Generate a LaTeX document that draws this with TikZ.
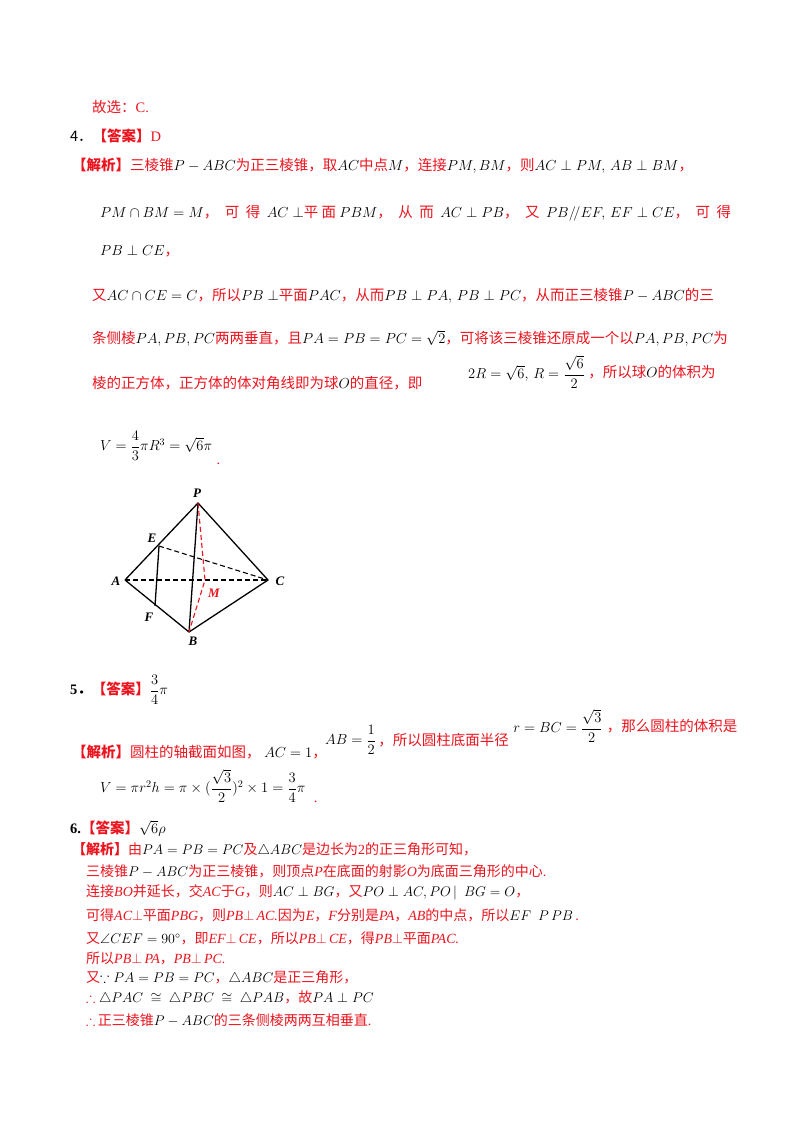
\RequirePackage{fix-cm}
\documentclass[tikz,border=0pt]{standalone}
\usepackage{amsmath,amssymb}
\usepackage{fontspec}
\usetikzlibrary{calc}
\setmainfont{Liberation Serif}
\newfontfamily\cjk{Noto Sans CJK SC}
\definecolor{ared}{RGB}{235,20,30}
\newcommand{\zh}[1]{{\color{ared}\cjk #1}}
\newcommand{\zb}[1]{{\color{ared}\cjk\bfseries #1}}
\begin{document}
\begin{tikzpicture}[x=1pt,y=-1pt,
  ln/.style={anchor=west,inner sep=0pt,font=\fontsize{14.5}{16}\selectfont},
  lab/.style={font=\bfseries\itshape\fontsize{13}{15}\selectfont,inner sep=1pt},
  edge/.style={line width=1.3pt},
  hid/.style={line width=1.1pt,dashed,dash pattern=on 5pt off 3pt}]
\useasboundingbox (0,0) rectangle (800,1132);
\node[ln] (l0) at (92,107) {\zh{故选：}{\color{ared}C.}};
\node[ln] (l1) at (70,136) {{\cjk 4．}\zb{【答案】}{\color{ared}D}};
\node[ln] (l2) at (72,166) {\zb{【解析】}\zh{三棱锥}$P-ABC$\zh{为正三棱锥，取}$AC$\zh{中点}$M$\zh{，连接}$PM,BM$\zh{，则}$AC\perp PM,\,AB\perp BM$\zh{，}};
\node[ln] (l3) at (100,213) {$PM\cap BM=M$\zh{，\ \ 可\ \ 得\ \ }$AC\perp$\zh{平\ 面\ }$PBM$\zh{，\ \ 从\ \ 而\ \ }$AC\perp PB$\zh{，\ \ 又\ \ }$PB/\!/EF,\,EF\perp CE$\zh{，\ \ 可\ \ 得}};
\node[ln] (l4) at (100,251) {$PB\perp CE$\zh{，}};
\node[ln] (l5) at (92,296) {\zh{又}$AC\cap CE=C$\zh{，所以}$PB\perp$\zh{平面}$PAC$\zh{，从而}$PB\perp PA,\,PB\perp PC$\zh{，从而正三棱锥}$P-ABC$\zh{的三}};
\node[ln] (l6) at (92,338) {\zh{条侧棱}$PA,PB,PC$\zh{两两垂直，且}$PA=PB=PC=\sqrt{2}$\zh{，可将该三棱锥还原成一个以}$PA,PB,PC$\zh{为}};
\node[ln] (l7) at (92,383) {\zh{棱的正方体，正方体的体对角线即为球}$O$\zh{的直径，即}};
\node[ln] (l7b) at (468,372) {$2R=\sqrt{6},\,R=\dfrac{\sqrt{6}}{2}$};
\node[ln] (l7c) at ($(l7b.east)+(3,0)$ |- l7.west) {\zh{，所以球}$O$\zh{的体积为}};
\node[ln] (l8) at (100,446) {$V=\dfrac{4}{3}\pi R^3=\sqrt{6}\pi$};
\node[ln] (l8d) at ($(l8.east)+(4,18)$) {\color{ared}.};
% figure
\coordinate (P) at (198,503);
\coordinate (E) at (159,546);
\coordinate (A) at (125,580);
\coordinate (C) at (268,580);
\coordinate (F) at (155,606);
\coordinate (B) at (189,632);
\coordinate (M) at (205,580);
\draw[edge,line join=round] (A)--(P)--(C)--(B)--(A);
\draw[edge] (P)--(B);
\draw[edge] (E)--(F);
\draw[hid] (A)--(C);
\draw[hid] (E)--(C);
\draw[hid,ared] (P)--(M)--(B);
\node[lab] (nP) at (197,493) {P};
\node[lab] (nE) at (152,538) {E};
\node[lab] (nA) at (116,581) {A};
\node[lab] (nC) at (280,581) {C};
\node[lab] (nF) at (149,617) {F};
\node[lab] (nB) at (193,641) {B};
\node[lab,ared] (nM) at (214,593) {M};
% 5
\node[ln] (m1) at (70,690) {\textbf{5}{\cjk\bfseries ．}\zb{【答案】}$\dfrac{3}{4}\pi$};
\node[ln] (m2) at (72,752) {\zb{【解析】}\zh{圆柱的轴截面如图，}\ $AC=1$\zh{，}};
\node[ln] (m2b) at (325,740) {$AB=\dfrac{1}{2}$};
\node[ln] (m2c) at ($(m2b.east)+(2,0)$ |- m2.west) {\zh{，所以圆柱底面半径}};
\node[ln] (m2d) at ($(m2c.east)+(4,-14)$) {$r=BC=\dfrac{\sqrt{3}}{2}$};
\node[ln] (m2e) at ($(m2d.east)+(4,0)$ |- m2.west) {\zh{，那么圆柱的体积是}};
\node[ln] (m3) at (100,786) {$V=\pi r^2h=\pi\times(\dfrac{\sqrt{3}}{2})^2\times1=\dfrac{3}{4}\pi$};
\node[ln] (m3d) at ($(m3.east)+(8,16)$) {\color{ared}.};
% 6
\node[ln] (n1) at (70,828) {\textbf{6.}\zb{【答案】}$\sqrt{6}\rho$};
\begin{scope}[every node/.style={ln,font=\fontsize{14}{15}\selectfont}]
\node (n2) at (72,850) {\zb{【解析】}\zh{由}$PA=PB=PC$\zh{及}$\triangle ABC$\zh{是边长为}{\color{ared}2}\zh{的正三角形可知，}};
\node (n3) at (86,871) {\zh{三棱锥}$P-ABC$\zh{为正三棱锥，则顶点}{\color{ared}\itshape P}\zh{在底面的射影}{\color{ared}\itshape O}\zh{为底面三角形的中心}{\color{ared}.}};
\node (n4) at (86,892) {\zh{连接}{\color{ared}\itshape BO}\zh{并延长，交}{\color{ared}\itshape AC}\zh{于}{\color{ared}\itshape G}\zh{，则}$AC\perp BG$\zh{，又}$PO\perp AC,PO\,|\ \ BG=O$\zh{，}};
\node (n5) at (86,915) {\zh{可得}{\color{ared}\itshape AC}$\color{ared}\perp$\zh{平面}{\color{ared}\itshape PBG}\zh{，则}{\color{ared}\itshape PB}$\color{ared}\perp$\,{\color{ared}\itshape AC.}\zh{因为}{\color{ared}\itshape E}\zh{，}{\color{ared}\itshape F}\zh{分别是}{\color{ared}\itshape PA}\zh{，}{\color{ared}\itshape AB}\zh{的中点，所以}$EF\ \ P\,PB$\,{\color{ared}.}};
\node (n6) at (86,938) {\zh{又}$\angle CEF=90^\circ$\zh{，即}{\color{ared}\itshape EF}$\color{ared}\perp$\,{\color{ared}\itshape CE}\zh{，所以}{\color{ared}\itshape PB}$\color{ared}\perp$\,{\color{ared}\itshape CE}\zh{，得}{\color{ared}\itshape PB}$\color{ared}\perp$\zh{平面}{\color{ared}\itshape PAC.}};
\node (n7) at (86,958) {\zh{所以}{\color{ared}\itshape PB}$\color{ared}\perp$\,{\color{ared}\itshape PA}\zh{，}{\color{ared}\itshape PB}$\color{ared}\perp$\,{\color{ared}\itshape PC.}};
\node (n8) at (86,978) {\zh{又}$\because PA=PB=PC$\zh{，}$\triangle ABC$\zh{是正三角形，}};
\node (n9) at (86,998) {$\color{ared}\therefore\ $$\triangle PAC\ \cong\ \triangle PBC\ \cong\ \triangle PAB$\zh{，故}$PA\perp PC$};
\node (n10) at (86,1020) {$\color{ared}\therefore$\,\zh{正三棱锥}$P-ABC$\zh{的三条侧棱两两互相垂直}{\color{ared}.}};
\end{scope}
\end{tikzpicture}
\end{document}
